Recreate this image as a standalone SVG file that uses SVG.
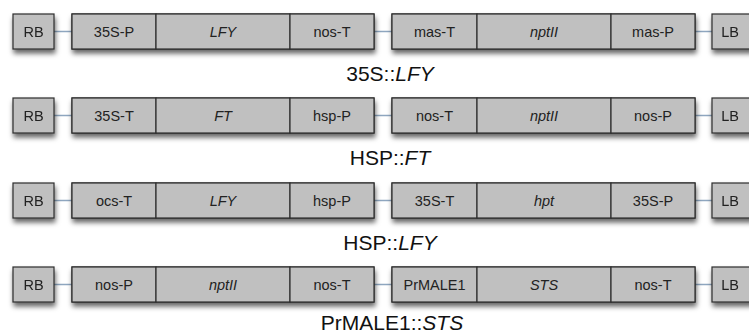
<svg xmlns="http://www.w3.org/2000/svg" width="749" height="333" viewBox="0 0 749 333">
<defs>
<filter id="sh" x="-20%" y="-30%" width="140%" height="200%">
<feDropShadow dx="1" dy="4" stdDeviation="2.5" flood-color="#000" flood-opacity="0.6"/>
</filter>
<style>
.b{fill:#c0c0c0;stroke:#2e2e2e;stroke-width:1.2}
.t{font-family:"Liberation Sans",Arial,sans-serif;font-size:14.5px;fill:#222;text-anchor:middle}
.i{font-style:italic}
.ti{font-family:"Liberation Sans",Arial,sans-serif;font-size:21px;fill:#111;text-anchor:middle}
.c{stroke:#8ea6bf;stroke-width:1.3;fill:none}
</style>
</defs>
<rect width="749" height="333" fill="#fff"/>
<g id="connectors">
<path class="c" d="M54 31.5H72M374 31.5H392M695 31.5H712"/>
<path class="c" d="M54 115.5H72M374 115.5H392M695 115.5H712"/>
<path class="c" d="M54 200.5H72M374 200.5H392M695 200.5H712"/>
<path class="c" d="M54 284.5H72M374 284.5H392M695 284.5H712"/>
</g>
<g id="row1">
<g id="r1-rb" filter="url(#sh)"><rect class="b" x="13" y="14" width="41" height="35"/><text class="t" x="33.5" y="37">RB</text></g>
<g id="r1-cassette1" filter="url(#sh)"><rect class="b" x="72" y="14" width="302" height="35"/></g>
<g id="r1-35SP"><rect class="b" x="72" y="14" width="84" height="35"/><text class="t" x="114" y="37">35S-P</text></g>
<g id="r1-LFY"><rect class="b" x="156" y="14" width="134" height="35"/><text class="t i" x="223" y="37">LFY</text></g>
<g id="r1-nosT"><rect class="b" x="290" y="14" width="84" height="35"/><text class="t" x="332" y="37">nos-T</text></g>
<g id="r1-cassette2" filter="url(#sh)"><rect class="b" x="392" y="14" width="303" height="35"/></g>
<g id="r1-masT"><rect class="b" x="392" y="14" width="85" height="35"/><text class="t" x="434.5" y="37">mas-T</text></g>
<g id="r1-nptII"><rect class="b" x="477" y="14" width="134" height="35"/><text class="t i" x="544" y="37">nptII</text></g>
<g id="r1-masP"><rect class="b" x="611" y="14" width="84" height="35"/><text class="t" x="653" y="37">mas-P</text></g>
<g id="r1-lb" filter="url(#sh)"><rect class="b" x="712" y="14" width="41" height="35"/><text class="t" x="730" y="37">LB</text></g>
<g id="r1-title"><text class="ti" x="390" y="81">35S::<tspan class="i">LFY</tspan></text></g>
</g>
<g id="row2">
<g id="r2-rb" filter="url(#sh)"><rect class="b" x="13" y="98" width="41" height="35"/><text class="t" x="33.5" y="121">RB</text></g>
<g id="r2-cassette1" filter="url(#sh)"><rect class="b" x="72" y="98" width="302" height="35"/></g>
<g id="r2-35ST"><rect class="b" x="72" y="98" width="84" height="35"/><text class="t" x="114" y="121">35S-T</text></g>
<g id="r2-FT"><rect class="b" x="156" y="98" width="134" height="35"/><text class="t i" x="223" y="121">FT</text></g>
<g id="r2-hspP"><rect class="b" x="290" y="98" width="84" height="35"/><text class="t" x="332" y="121">hsp-P</text></g>
<g id="r2-cassette2" filter="url(#sh)"><rect class="b" x="392" y="98" width="303" height="35"/></g>
<g id="r2-nosT"><rect class="b" x="392" y="98" width="85" height="35"/><text class="t" x="434.5" y="121">nos-T</text></g>
<g id="r2-nptII"><rect class="b" x="477" y="98" width="134" height="35"/><text class="t i" x="544" y="121">nptII</text></g>
<g id="r2-nosP"><rect class="b" x="611" y="98" width="84" height="35"/><text class="t" x="653" y="121">nos-P</text></g>
<g id="r2-lb" filter="url(#sh)"><rect class="b" x="712" y="98" width="41" height="35"/><text class="t" x="730" y="121">LB</text></g>
<g id="r2-title"><text class="ti" x="390" y="165">HSP::<tspan class="i">FT</tspan></text></g>
</g>
<g id="row3">
<g id="r3-rb" filter="url(#sh)"><rect class="b" x="13" y="183" width="41" height="35"/><text class="t" x="33.5" y="206">RB</text></g>
<g id="r3-cassette1" filter="url(#sh)"><rect class="b" x="72" y="183" width="302" height="35"/></g>
<g id="r3-ocsT"><rect class="b" x="72" y="183" width="84" height="35"/><text class="t" x="114" y="206">ocs-T</text></g>
<g id="r3-LFY"><rect class="b" x="156" y="183" width="134" height="35"/><text class="t i" x="223" y="206">LFY</text></g>
<g id="r3-hspP"><rect class="b" x="290" y="183" width="84" height="35"/><text class="t" x="332" y="206">hsp-P</text></g>
<g id="r3-cassette2" filter="url(#sh)"><rect class="b" x="392" y="183" width="303" height="35"/></g>
<g id="r3-35ST"><rect class="b" x="392" y="183" width="85" height="35"/><text class="t" x="434.5" y="206">35S-T</text></g>
<g id="r3-hpt"><rect class="b" x="477" y="183" width="134" height="35"/><text class="t i" x="544" y="206">hpt</text></g>
<g id="r3-35SP"><rect class="b" x="611" y="183" width="84" height="35"/><text class="t" x="653" y="206">35S-P</text></g>
<g id="r3-lb" filter="url(#sh)"><rect class="b" x="712" y="183" width="41" height="35"/><text class="t" x="730" y="206">LB</text></g>
<g id="r3-title"><text class="ti" x="390" y="250">HSP::<tspan class="i">LFY</tspan></text></g>
</g>
<g id="row4">
<g id="r4-rb" filter="url(#sh)"><rect class="b" x="13" y="267" width="41" height="35"/><text class="t" x="33.5" y="290">RB</text></g>
<g id="r4-cassette1" filter="url(#sh)"><rect class="b" x="72" y="267" width="302" height="35"/></g>
<g id="r4-nosP"><rect class="b" x="72" y="267" width="84" height="35"/><text class="t" x="114" y="290">nos-P</text></g>
<g id="r4-nptII"><rect class="b" x="156" y="267" width="134" height="35"/><text class="t i" x="223" y="290">nptII</text></g>
<g id="r4-nosT"><rect class="b" x="290" y="267" width="84" height="35"/><text class="t" x="332" y="290">nos-T</text></g>
<g id="r4-cassette2" filter="url(#sh)"><rect class="b" x="392" y="267" width="303" height="35"/></g>
<g id="r4-PrMALE1"><rect class="b" x="392" y="267" width="85" height="35"/><text class="t" x="434.5" y="290">PrMALE1</text></g>
<g id="r4-STS"><rect class="b" x="477" y="267" width="134" height="35"/><text class="t i" x="544" y="290">STS</text></g>
<g id="r4-nosT2"><rect class="b" x="611" y="267" width="84" height="35"/><text class="t" x="653" y="290">nos-T</text></g>
<g id="r4-lb" filter="url(#sh)"><rect class="b" x="712" y="267" width="41" height="35"/><text class="t" x="730" y="290">LB</text></g>
<g id="r4-title"><text class="ti" x="392" y="330">PrMALE1::<tspan class="i">STS</tspan></text></g>
</g>
</svg>
